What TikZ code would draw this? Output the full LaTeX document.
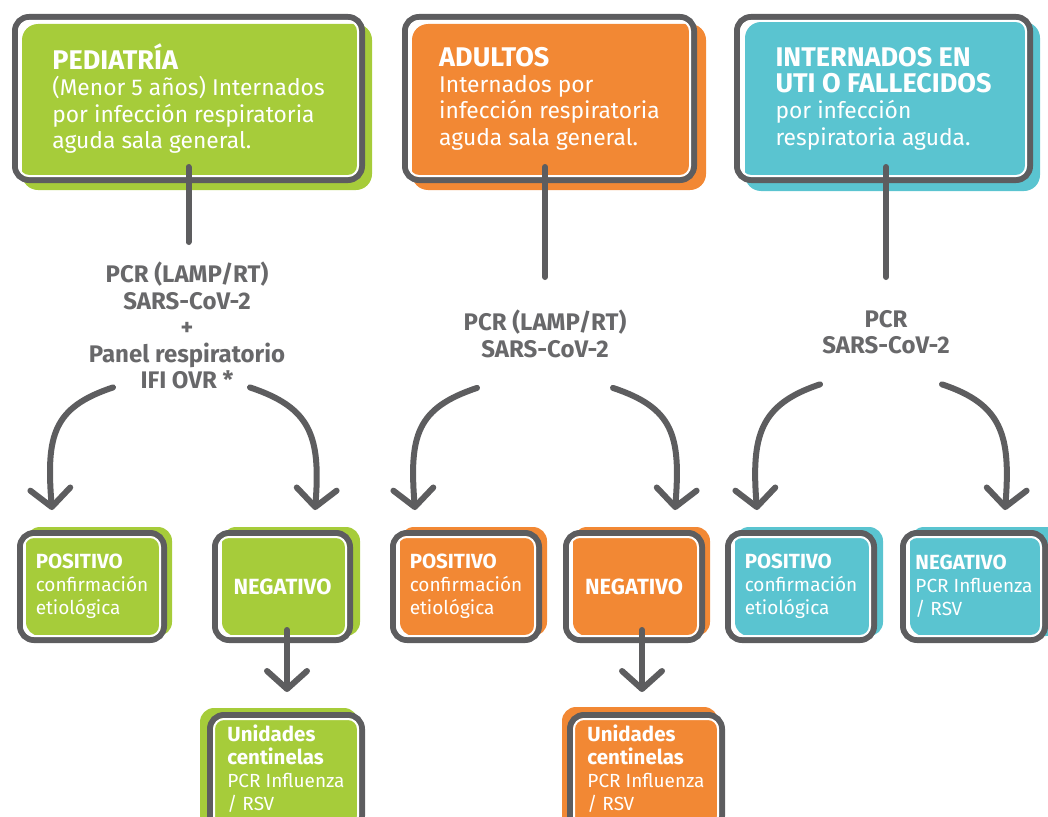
\documentclass[tikz,border=0pt]{standalone}
\usepackage{fontspec}
\setmainfont{Fira Sans}
\usepackage{tikz}
\usetikzlibrary{arrows.meta}
\definecolor{pedgreen}{RGB}{166,204,58}
\definecolor{aduorange}{RGB}{242,136,52}
\definecolor{uticyan}{RGB}{90,196,208}
\definecolor{framegray}{RGB}{93,93,95}
\definecolor{labelgray}{RGB}{104,104,106}
\newcommand{\boxtitle}[1]{{\fontsize{27}{28}\selectfont\bfseries #1}}
\newcommand{\boxhead}[1]{{\fontsize{20.5}{23}\selectfont\bfseries #1}}

\begin{document}
\begin{tikzpicture}[x=1pt,y=-1pt,
	frame/.style={draw=framegray,line width=6pt,rounded corners=14pt,outer sep=0pt,inner sep=0pt,text=white,align=left},
	topbox/.style={frame,font=\fontsize{22.8}{26.3}\selectfont,minimum height=163pt},
	botbox/.style={frame,font=\fontsize{19}{23}\selectfont,minimum height=107pt},
	cenbox/.style={botbox,minimum width=152pt,minimum height=115pt,text depth=10pt},
	pcrtext/.style={text=labelgray,font=\bfseries\fontsize{24}{26.5}\selectfont,align=center,inner sep=0pt,anchor=north},
	conn/.style={draw=framegray,line width=6pt,line cap=round},
	arr/.style={conn,-{Straight Barb[length=18pt,width=40pt,round]}}]
\useasboundingbox (0,0) rectangle (1048,816);

% colour plates behind the frames
\fill[pedgreen,rounded corners=16pt] (22,24) rectangle (372,190);
\fill[aduorange,rounded corners=16pt] (412,24) rectangle (706,190);
\fill[uticyan,rounded corners=16pt] (745,22) rectangle (1040,191);
\fill[pedgreen,rounded corners=14pt] (26,527) rectangle (172,636);
\fill[pedgreen,rounded corners=14pt] (222,527) rectangle (360,636);
\fill[pedgreen,rounded corners=14pt] (200,708) rectangle (358,830);
\fill[aduorange,rounded corners=14pt] (400,527) rectangle (547,636);
\fill[aduorange,rounded corners=14pt] (573,527) rectangle (710,636);
\fill[aduorange,rounded corners=14pt] (562,707) rectangle (718,830);
\fill[uticyan,rounded corners=14pt] (735,527) rectangle (883,636);
\fill[uticyan,rounded corners=14pt] (910,527) rectangle (1060,636);

% top row
\node (ped) [topbox,minimum width=347pt] at (188.5,98.5) {\boxtitle{PEDIATRÍA}\\(Menor 5 años) Internados\\por infección respiratoria\\aguda sala general.};
\node (adu) [topbox,minimum width=289pt] at (549.5,98.5) {\boxtitle{ADULTOS}\\Internados por\\infección respiratoria\\aguda sala general.};
\node (uti) [topbox,minimum width=293pt] at (883.5,98.5) {\boxtitle{INTERNADOS EN}\\\boxtitle{UTI O FALLECIDOS}\\por infección\\respiratoria aguda.};

% tests
\node (pedpcr) [pcrtext] at (187,262) {PCR (LAMP/RT)\\SARS-CoV-2\\+\\Panel respiratorio\\IFI OVR *};
\node (adupcr) [pcrtext] at (545,310) {PCR (LAMP/RT)\\SARS-CoV-2};
\node (utipcr) [pcrtext] at (886,310) {PCR\\SARS-CoV-2};

% results
\node (pedpos) [botbox,minimum width=144pt] at (92,586.5) {\boxhead{POSITIVO}\\confirmación\\etiológica};
\node (pedneg) [botbox,minimum width=135pt] at (282.5,586.5) {{\fontsize{22}{24}\selectfont\bfseries NEGATIVO}};
\node (adupos) [botbox,minimum width=146pt] at (466,586.5) {\boxhead{POSITIVO}\\confirmación\\etiológica};
\node (aduneg) [botbox,minimum width=136pt] at (634,586.5) {{\fontsize{22}{24}\selectfont\bfseries NEGATIVO}};
\node (utipos) [botbox,minimum width=146pt] at (801,586.5) {\boxhead{POSITIVO}\\confirmación\\etiológica};
\node (utineg) [botbox,minimum width=142pt] at (974,586.5) {\boxhead{NEGATIVO}\\PCR Influenza\\/ RSV};
\node (pedcen) [cenbox] at (286,772.5) {\boxhead{Unidades}\\\boxhead{centinelas}\\PCR Influenza\\/ RSV};
\node (aducen) [cenbox] at (646,772.5) {\boxhead{Unidades}\\\boxhead{centinelas}\\PCR Influenza\\/ RSV};

% thin white line inside every frame
\foreach \n in {ped,adu,uti,pedpos,pedneg,adupos,aduneg,utipos,utineg,pedcen,aducen}
	\draw[white,line width=2pt,rounded corners=10pt] ([shift={(4,4)}]\n.north west) rectangle ([shift={(-4,-4)}]\n.south east);

% connectors
\draw[conn] ([shift={(0,-13)}]ped.south) -- ([shift={(1.5,-20)}]pedpcr.north);
\draw[conn] ([shift={(-4.5,-13)}]adu.south) -- ([shift={(0,-33)}]adupcr.north);
\draw[conn] ([shift={(2.5,-13)}]uti.south) -- ([shift={(0,-33)}]utipcr.north);

\draw[arr] ([shift={(-74,-2)}]pedpcr.south) .. controls +(-60,20) and +(-6,-75) .. ([shift={(32,-23)}]pedpos.north west);
\draw[arr] ([shift={(63,-2)}]pedpcr.south) .. controls +(60,20) and +(6,-75) .. ([shift={(-35,-23)}]pedneg.north east);
\draw[arr] ([shift={(-68,30)}]adupcr.south) .. controls +(-60,20) and +(-6,-75) .. ([shift={(22,-23)}]adupos.north west);
\draw[arr] ([shift={(68,30)}]adupcr.south) .. controls +(60,20) and +(6,-75) .. ([shift={(-27,-23)}]aduneg.north east);
\draw[arr] ([shift={(-66,30)}]utipcr.south) .. controls +(-60,20) and +(-6,-75) .. ([shift={(29,-23)}]utipos.north west);
\draw[arr] ([shift={(56,30)}]utipcr.south) .. controls +(60,20) and +(6,-75) .. ([shift={(-40,-23)}]utineg.north east);

\draw[arr] ([shift={(4.5,-10)}]pedneg.south) -- ([shift={(1,-23)}]pedcen.north);
\draw[arr] ([shift={(8,-10)}]aduneg.south) -- ([shift={(-4,-23)}]aducen.north);
\end{tikzpicture}
\end{document}
